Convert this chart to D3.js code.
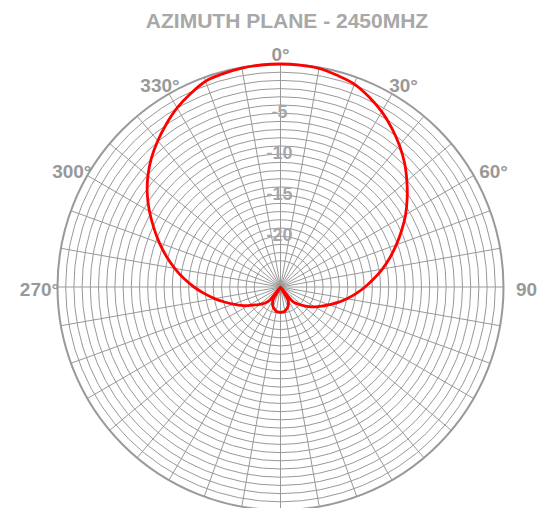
<!DOCTYPE html>
<html>
<head>
<meta charset="utf-8">
<script src="https://cdn.jsdelivr.net/npm/d3@7"></script>
<style>
  body { margin: 0; background: #fff; }
  svg { display: block; }
</style>
</head>
<body>
<div id="container"></div>
<script>
(function(){
  "use strict";

  var title = "AZIMUTH PLANE - 2450MHZ";

  // pattern sampled every 5 degrees, gain in dB (nulls fall to the centre)
  var angles = d3.range(0, 360, 5);
  var gain = [
    0, -0.03, -0.12, -0.47, -0.86, -1.63, -2.51, -3.54, -4.64, -5.8,
    -7.08, -8.34, -9.58, -10.9, -12.17, -13.39, -14.59, -15.78, -16.89, -17.96,
    -18.98, -19.94, -20.9, -21.66, -22.35, -23.04, -23.71, -24.31, -24.91, -30,
    -25.4, -24.9, -24.6, -24.4, -24.2, -24.15, -24.1, -24.15, -24.2, -24.4,
    -24.6, -24.9, -25.4, -30, -24.95, -24.4, -23.9, -23.38, -22.65, -21.87,
    -21.1, -20.13, -19.04, -17.9, -16.65, -15.38, -14.1, -12.8, -11.48, -10.15,
    -8.74, -7.36, -6.09, -4.94, -3.92, -2.93, -1.98, -1.2, -0.49, -0.25,
    -0.08, -0.02
  ];

  var ringValues = d3.range(-24, 1, 1);
  var radialTicks = [-5, -10, -15, -20];
  var spokeAngles = d3.range(0, 360, 10);
  var angleTicks = [0, 30, 60, 90, 270, 300, 330];
  var angleLabels = ["0°", "30°", "60°", "90", "270°", "300°", "330°"];

  var width = 544, height = 508;
  var cx = 280.5, cy = 287, outerR = 223;
  var font = "'Liberation Sans', Arial, sans-serif";

  var svg = d3.select("#container").append("svg")
      .attr("width", width)
      .attr("height", height);

  svg.append("text")
      .attr("x", 287)
      .attr("y", 28)
      .attr("text-anchor", "middle")
      .style("font-family", font)
      .style("font-weight", "bold")
      .style("font-size", "21px")
      .style("fill", "#a8a8a8")
      .text(title);

  var chart = svg.append("g")
      .attr("transform", "translate(" + cx + "," + cy + ")");

  var rScale = d3.scaleLinear()
      .domain([-27.2, 0])
      .range([0, outerR])
      .clamp(true);

  var rad = function(deg) { return deg * Math.PI / 180; };

  // rings
  chart.append("g").selectAll("circle")
      .data(ringValues)
      .enter().append("circle")
      .attr("r", function(d) { return rScale(d); })
      .style("fill", "none")
      .style("stroke", "#999")
      .style("stroke-width", function(d) { return d === 0 ? 2 : 1; });

  // spokes
  chart.append("g").selectAll("line")
      .data(spokeAngles)
      .enter().append("line")
      .attr("x1", 0)
      .attr("y1", 0)
      .attr("x2", function(d) { return outerR * Math.sin(rad(d)); })
      .attr("y2", function(d) { return -outerR * Math.cos(rad(d)); })
      .style("stroke", "#999")
      .style("stroke-width", 1);

  // radial tick labels along the 0 degree spoke
  chart.append("g").selectAll("text")
      .data(radialTicks)
      .enter().append("text")
      .attr("x", -1)
      .attr("y", function(d) { return -rScale(d) + 7; })
      .attr("text-anchor", "middle")
      .attr("dominant-baseline", "central")
      .style("font-family", font)
      .style("font-weight", "bold")
      .style("font-size", "18px")
      .style("fill", "#a6a6ac")
      .text(function(d) { return d; });

  // angle labels
  var labelR = outerR + 12;
  chart.append("g").selectAll("text")
      .data(angleTicks)
      .enter().append("text")
      .attr("x", function(d) {
        var s = Math.sin(rad(d));
        return labelR * s + s * (s > 0 ? 11 : 6);
      })
      .attr("y", function(d) { return -labelR * Math.cos(rad(d)) + 2; })
      .attr("text-anchor", "middle")
      .attr("dominant-baseline", "central")
      .style("font-family", font)
      .style("font-weight", "bold")
      .style("font-size", "19px")
      .style("fill", "#999")
      .text(function(d, i) { return angleLabels[i]; });

  // pattern
  var points = angles.map(function(a, i) { return [a, gain[i]]; });
  var line = d3.lineRadial()
      .angle(function(d) { return rad(d[0]); })
      .radius(function(d) { return rScale(d[1]); })
      .curve(d3.curveCatmullRomClosed.alpha(0.5));

  chart.append("path")
      .datum(points)
      .attr("d", line)
      .style("fill", "none")
      .style("stroke", "#ff0000")
      .style("stroke-width", 2.8);
})();
</script>
</body>
</html>
